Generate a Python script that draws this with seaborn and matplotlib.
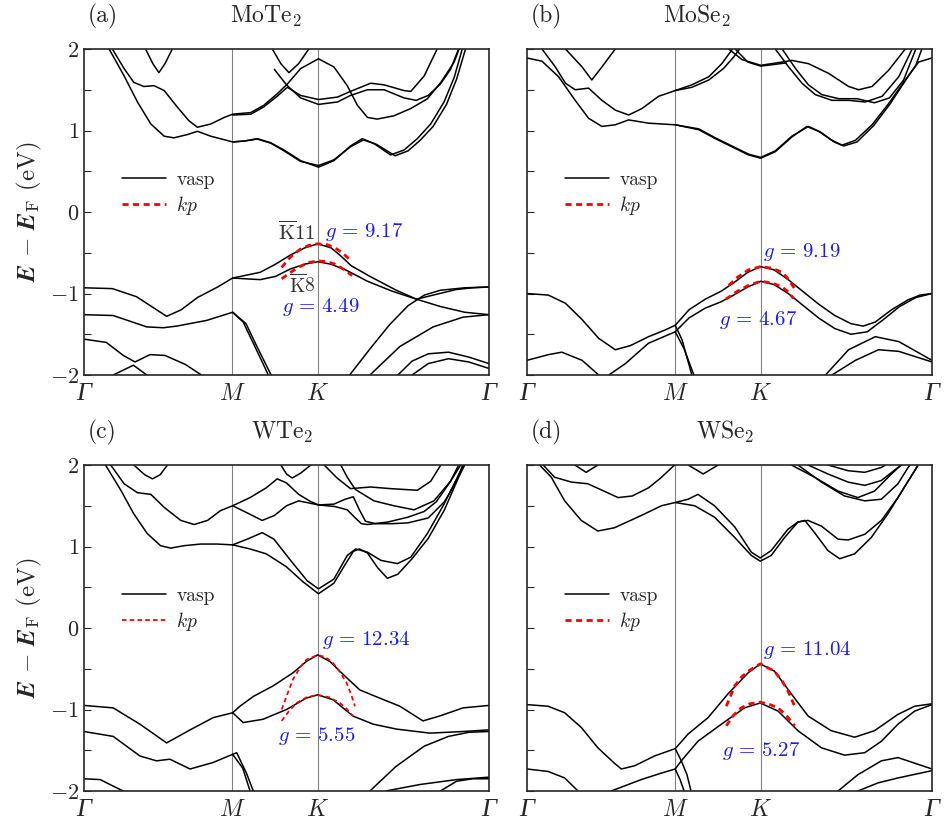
import numpy as np
import pandas as pd
import seaborn as sns
import matplotlib.pyplot as plt
from matplotlib.lines import Line2D
from matplotlib.ticker import MultipleLocator

# high symmetry points, as fraction of the Gamma-M-K-Gamma path
k_ticks = [0.0, 0.366, 0.577, 1.0]
k_labels = ['Γ', r'$M$', r'$K$', 'Γ']

# ---- (a) MoTe2 : vasp bands, list of (k, E) ----
mote2_vasp = [
    [(0.062, 2.0), (0.099, 1.67), (0.132, 1.35), (0.165, 1.08), (0.198, 0.93), (0.222, 0.91), (0.255, 0.95),
     (0.280, 0.99), (0.313, 0.93), (0.367, 0.86), (0.395, 0.87), (0.428, 0.90), (0.461, 0.85), (0.494, 0.76),
     (0.535, 0.63), (0.579, 0.55), (0.617, 0.63), (0.658, 0.81), (0.687, 0.90), (0.716, 0.84), (0.757, 0.70),
     (0.790, 0.76), (0.823, 0.90), (0.856, 1.08), (0.889, 1.35), (0.914, 1.65), (0.934, 2.0)],
    [(0.367, 0.86), (0.395, 0.87), (0.428, 0.895), (0.461, 0.845), (0.494, 0.75), (0.535, 0.62), (0.579, 0.57),
     (0.617, 0.64), (0.658, 0.80), (0.690, 0.885), (0.722, 0.83), (0.768, 0.69), (0.800, 0.75), (0.830, 0.88),
     (0.862, 1.05), (0.895, 1.32), (0.920, 1.63), (0.942, 2.0)],
    [(0.070, 2.0), (0.099, 1.76), (0.123, 1.59), (0.148, 1.54), (0.173, 1.55), (0.198, 1.49), (0.230, 1.29),
     (0.259, 1.12), (0.280, 1.04), (0.313, 1.08), (0.346, 1.16), (0.367, 1.20), (0.412, 1.22), (0.444, 1.31),
     (0.477, 1.45), (0.502, 1.57), (0.535, 1.76), (0.579, 1.88), (0.617, 1.78), (0.650, 1.55), (0.675, 1.31),
     (0.700, 1.16), (0.724, 1.14), (0.765, 1.18), (0.807, 1.27), (0.848, 1.39), (0.881, 1.59), (0.914, 1.84),
     (0.926, 2.0)],
    [(0.367, 1.19), (0.412, 1.20), (0.444, 1.29), (0.477, 1.42), (0.502, 1.53), (0.535, 1.43), (0.579, 1.38),
     (0.626, 1.41), (0.658, 1.48), (0.708, 1.58), (0.741, 1.56), (0.790, 1.49), (0.807, 1.48), (0.840, 1.67),
     (0.872, 2.0)],
    [(0.470, 1.75), (0.500, 1.56), (0.535, 1.40), (0.579, 1.32), (0.626, 1.35), (0.658, 1.43), (0.700, 1.50),
     (0.741, 1.50), (0.790, 1.40), (0.820, 1.37), (0.850, 1.43), (0.880, 1.57), (0.905, 1.75), (0.925, 2.0)],
    [(0.465, 2.0), (0.486, 1.82), (0.506, 1.71), (0.530, 1.82), (0.555, 2.0)],
    [(0.152, 2.0), (0.170, 1.82), (0.185, 1.71), (0.200, 1.82), (0.218, 2.0)],
    # valence
    [(0.0, -0.93), (0.07, -0.94), (0.13, -1.04), (0.17, -1.17), (0.204, -1.28), (0.24, -1.20), (0.28, -1.05),
     (0.33, -0.92), (0.367, -0.81), (0.435, -0.74), (0.473, -0.64), (0.509, -0.53), (0.545, -0.44),
     (0.577, -0.39), (0.61, -0.44), (0.632, -0.53), (0.66, -0.66), (0.706, -0.79), (0.771, -0.96),
     (0.821, -1.07), (0.88, -1.16), (0.94, -1.23), (1.0, -1.26)],
    [(0.367, -0.81), (0.40, -0.82), (0.435, -0.83), (0.473, -0.79), (0.509, -0.70), (0.545, -0.64),
     (0.577, -0.61), (0.61, -0.64), (0.65, -0.72), (0.70, -0.85), (0.76, -0.97), (0.821, -1.07), (0.87, -1.01),
     (0.92, -0.95), (0.96, -0.93), (1.0, -0.92)],
    [(0.656, -2.0), (0.706, -1.68), (0.755, -1.38), (0.80, -1.15), (0.84, -1.02), (0.88, -0.96), (0.94, -0.93),
     (1.0, -0.92)],
    [(0.706, -2.0), (0.780, -1.65), (0.862, -1.41), (0.936, -1.29), (1.0, -1.26)],
    [(0.0, -1.26), (0.072, -1.27), (0.155, -1.41), (0.196, -1.42), (0.229, -1.40), (0.303, -1.33),
     (0.367, -1.23), (0.393, -1.35), (0.418, -1.61), (0.442, -1.86), (0.455, -2.0)],
    [(0.367, -1.23), (0.40, -1.37), (0.425, -1.63), (0.45, -1.88), (0.462, -2.0)],
    [(0.0, -1.56), (0.055, -1.60), (0.097, -1.76), (0.126, -1.84), (0.163, -1.75), (0.20, -1.76),
     (0.25, -1.87), (0.29, -2.0)],
    [(0.072, -2.0), (0.122, -1.88), (0.155, -2.0)],
    [(0.775, -2.0), (0.81, -1.83), (0.85, -1.74), (0.90, -1.72), (0.95, -1.78), (1.0, -1.86)],
    [(0.81, -2.0), (0.85, -1.86), (0.90, -1.80), (0.95, -1.84), (1.0, -1.92)],
]
mote2_kp = [
    [(0.488, -0.68), (0.51, -0.55), (0.533, -0.46), (0.555, -0.41), (0.577, -0.39), (0.60, -0.40),
     (0.62, -0.44), (0.64, -0.51), (0.66, -0.60)],
    [(0.488, -0.82), (0.51, -0.74), (0.533, -0.67), (0.555, -0.62), (0.577, -0.60), (0.60, -0.61),
     (0.62, -0.64), (0.64, -0.70), (0.662, -0.78)],
]

# ---- (b) MoSe2 ----
mose2_vasp = [
    [(0.0, 1.89), (0.037, 1.85), (0.078, 1.66), (0.119, 1.37), (0.152, 1.15), (0.185, 1.05), (0.218, 1.07),
     (0.251, 1.13), (0.300, 1.09), (0.366, 1.07), (0.424, 1.01), (0.465, 0.90), (0.506, 0.80), (0.547, 0.70),
     (0.577, 0.66), (0.613, 0.74), (0.654, 0.92), (0.691, 1.05), (0.720, 0.99), (0.753, 0.88), (0.778, 0.82),
     (0.811, 0.88), (0.852, 1.07), (0.893, 1.33), (0.934, 1.62), (0.967, 1.84), (1.0, 1.89)],
    [(0.366, 1.07), (0.424, 1.02), (0.465, 0.91), (0.506, 0.81), (0.547, 0.71), (0.577, 0.67), (0.613, 0.75),
     (0.654, 0.93), (0.695, 1.05), (0.725, 0.98), (0.758, 0.86), (0.782, 0.81), (0.815, 0.86), (0.856, 1.06),
     (0.897, 1.33), (0.938, 1.64), (0.960, 1.80), (0.975, 2.0)],
    [(0.037, 2.0), (0.070, 1.78), (0.095, 1.58), (0.119, 1.50), (0.152, 1.52), (0.185, 1.37), (0.218, 1.25),
     (0.251, 1.19), (0.284, 1.27), (0.325, 1.42), (0.366, 1.49), (0.407, 1.56), (0.449, 1.66), (0.481, 1.82),
     (0.506, 1.99)],
    [(0.366, 1.49), (0.407, 1.53), (0.449, 1.62), (0.485, 1.76), (0.51, 1.90), (0.525, 2.0)],
    [(0.095, 2.0), (0.136, 1.78), (0.160, 1.62), (0.185, 1.78), (0.218, 2.0)],
    [(0.498, 2.0), (0.531, 1.87), (0.577, 1.80), (0.630, 1.84), (0.654, 1.86), (0.695, 1.82), (0.745, 1.70),
     (0.794, 1.54), (0.819, 1.50), (0.852, 1.54), (0.893, 1.74), (0.934, 2.0)],
    [(0.514, 2.0), (0.545, 1.84), (0.577, 1.79), (0.610, 1.81), (0.640, 1.83)],
    [(0.613, 2.0), (0.646, 1.78), (0.679, 1.58), (0.712, 1.44), (0.753, 1.37), (0.794, 1.37), (0.835, 1.35),
     (0.877, 1.42), (0.918, 1.66), (0.951, 2.0)],
    [(0.630, 2.0), (0.663, 1.76), (0.695, 1.56), (0.728, 1.44), (0.770, 1.39), (0.815, 1.39), (0.858, 1.34),
     (0.895, 1.40), (0.930, 1.62), (0.960, 2.0)],
    # valence
    [(0.0, -1.0), (0.053, -1.02), (0.095, -1.12), (0.136, -1.32), (0.177, -1.55), (0.218, -1.69),
     (0.255, -1.64), (0.30, -1.53), (0.34, -1.45), (0.366, -1.39), (0.40, -1.20), (0.44, -1.07),
     (0.48, -0.97), (0.51, -0.87), (0.545, -0.74), (0.577, -0.67), (0.61, -0.71), (0.645, -0.83),
     (0.68, -0.97), (0.72, -1.13), (0.76, -1.27), (0.80, -1.37), (0.83, -1.40), (0.86, -1.35), (0.90, -1.20),
     (0.94, -1.08), (0.97, -1.02), (1.0, -1.0)],
    [(0.202, -2.0), (0.243, -1.86), (0.300, -1.61), (0.366, -1.47), (0.40, -1.30), (0.44, -1.18),
     (0.48, -1.10), (0.51, -1.02), (0.545, -0.92), (0.577, -0.85), (0.61, -0.89), (0.645, -1.00),
     (0.68, -1.14), (0.72, -1.30), (0.76, -1.43), (0.80, -1.50), (0.84, -1.47), (0.88, -1.32), (0.92, -1.16),
     (0.96, -1.05), (1.0, -1.0)],
    [(0.0, -1.82), (0.053, -1.75), (0.086, -1.72), (0.136, -1.82), (0.177, -2.0)],
    [(0.366, -1.39), (0.383, -1.57), (0.407, -2.0)],
    [(0.366, -1.47), (0.388, -1.68), (0.412, -2.0)],
    [(0.737, -2.0), (0.794, -1.69), (0.860, -1.53), (0.918, -1.59), (1.0, -1.82)],
    [(0.753, -2.0), (0.811, -1.82), (0.868, -1.69), (0.918, -1.71), (1.0, -1.84)],
]
mose2_kp = [
    [(0.498, -0.90), (0.52, -0.80), (0.547, -0.71), (0.577, -0.67), (0.605, -0.69), (0.630, -0.74),
     (0.648, -0.84), (0.663, -0.96)],
    [(0.491, -1.07), (0.52, -0.97), (0.547, -0.90), (0.577, -0.85), (0.605, -0.87), (0.630, -0.92),
     (0.645, -0.98), (0.658, -1.06)],
]

# ---- (c) WTe2 ----
wte2_vasp = [
    [(0.053, 2.0), (0.091, 1.69), (0.123, 1.40), (0.156, 1.16), (0.189, 1.01), (0.214, 0.98), (0.247, 1.01),
     (0.288, 1.03), (0.329, 1.03), (0.367, 1.02)],
    [(0.367, 1.02), (0.403, 1.09), (0.440, 1.17), (0.469, 1.09), (0.510, 0.83), (0.551, 0.58), (0.579, 0.48),
     (0.617, 0.60), (0.650, 0.89), (0.671, 0.97), (0.700, 0.93), (0.733, 0.83), (0.774, 0.79), (0.807, 0.87),
     (0.848, 1.16), (0.889, 1.52), (0.930, 1.93), (0.938, 2.0)],
    [(0.367, 1.02), (0.41, 0.97), (0.45, 0.91), (0.50, 0.75), (0.54, 0.57), (0.579, 0.42), (0.617, 0.55),
     (0.645, 0.78), (0.665, 0.94), (0.680, 0.97), (0.70, 0.92), (0.725, 0.74), (0.749, 0.61), (0.775, 0.66),
     (0.81, 0.85), (0.85, 1.10), (0.89, 1.45), (0.925, 1.85), (0.94, 2.0)],
    [(0.066, 2.0), (0.099, 1.77), (0.132, 1.66), (0.165, 1.64), (0.198, 1.48), (0.239, 1.32), (0.272, 1.27),
     (0.305, 1.32), (0.337, 1.44), (0.367, 1.50), (0.41, 1.60), (0.45, 1.72), (0.477, 1.83), (0.50, 1.78),
     (0.53, 1.64), (0.56, 1.55), (0.579, 1.51), (0.617, 1.52), (0.645, 1.58), (0.665, 1.61), (0.680, 1.45),
     (0.695, 1.31), (0.72, 1.28), (0.76, 1.28), (0.80, 1.29), (0.85, 1.35), (0.89, 1.55), (0.92, 1.80),
     (0.935, 2.0)],
    [(0.367, 1.50), (0.40, 1.42), (0.44, 1.32), (0.47, 1.38), (0.50, 1.50), (0.53, 1.56), (0.579, 1.51),
     (0.62, 1.49), (0.65, 1.45), (0.67, 1.35), (0.685, 1.28), (0.70, 1.27), (0.75, 1.30), (0.80, 1.36),
     (0.84, 1.43), (0.87, 1.55), (0.905, 1.80), (0.925, 2.0)],
    [(0.123, 2.0), (0.150, 1.88), (0.169, 1.83), (0.188, 1.88), (0.206, 2.0)],
    [(0.486, 2.0), (0.500, 1.89), (0.514, 1.84), (0.535, 1.90), (0.560, 2.0)],
    [(0.593, 2.0), (0.625, 1.84), (0.658, 1.71), (0.708, 1.73), (0.757, 1.71), (0.823, 1.69), (0.856, 1.80),
     (0.881, 2.0)],
    [(0.634, 2.0), (0.650, 1.85), (0.670, 1.70), (0.716, 1.56), (0.765, 1.50), (0.815, 1.45), (0.864, 1.56),
     (0.905, 1.80), (0.93, 2.0)],
    # valence
    [(0.0, -0.95), (0.072, -0.98), (0.138, -1.18), (0.204, -1.41), (0.262, -1.25), (0.319, -1.10),
     (0.367, -1.04), (0.385, -0.96), (0.418, -0.84), (0.467, -0.71), (0.516, -0.55), (0.549, -0.41),
     (0.577, -0.33), (0.607, -0.41), (0.640, -0.57), (0.681, -0.76), (0.730, -0.86), (0.780, -0.96),
     (0.837, -1.14), (0.878, -1.08), (0.936, -0.98), (1.0, -0.95)],
    [(0.367, -1.04), (0.393, -1.16), (0.442, -1.12), (0.500, -1.00), (0.549, -0.86), (0.577, -0.82),
     (0.615, -0.88), (0.664, -1.08), (0.714, -1.18), (0.771, -1.24), (0.854, -1.29), (0.936, -1.27),
     (1.0, -1.25)],
    [(0.0, -1.27), (0.072, -1.33), (0.138, -1.57), (0.179, -1.63), (0.212, -1.61), (0.262, -1.73),
     (0.319, -1.65), (0.367, -1.55), (0.377, -1.53), (0.401, -1.78), (0.418, -2.0)],
    [(0.367, -1.55), (0.392, -1.72), (0.41, -2.0)],
    [(0.0, -1.85), (0.04, -1.86), (0.072, -1.94), (0.097, -2.0)],
    [(0.706, -2.0), (0.77, -1.70), (0.84, -1.45), (0.90, -1.33), (0.95, -1.28), (1.0, -1.27)],
    [(0.745, -2.0), (0.83, -1.92), (0.92, -1.86), (1.0, -1.83)],
    [(0.88, -2.0), (0.92, -1.88), (0.96, -1.85), (1.0, -1.85)],
]
wte2_kp = [
    [(0.488, -1.0), (0.500, -0.84), (0.516, -0.63), (0.533, -0.49), (0.549, -0.39), (0.577, -0.33),
     (0.597, -0.36), (0.615, -0.43), (0.632, -0.54), (0.648, -0.67), (0.660, -0.82), (0.669, -0.96)],
    [(0.488, -1.14), (0.506, -1.02), (0.525, -0.92), (0.550, -0.85), (0.577, -0.82), (0.605, -0.85),
     (0.632, -0.92), (0.650, -1.00), (0.664, -1.08)],
]

# ---- (d) WSe2 ----
wse2_vasp = [
    [(0.031, 2.0), (0.060, 1.85), (0.093, 1.56), (0.134, 1.32), (0.175, 1.19), (0.216, 1.23), (0.282, 1.38),
     (0.332, 1.50), (0.366, 1.54), (0.414, 1.50), (0.463, 1.36), (0.513, 1.11), (0.554, 0.89), (0.576, 0.82),
     (0.603, 0.89), (0.636, 1.11), (0.669, 1.30), (0.686, 1.32), (0.710, 1.17), (0.743, 0.95), (0.772, 0.85),
     (0.809, 0.91), (0.850, 1.11), (0.891, 1.40), (0.932, 1.73), (0.965, 1.99)],
    [(0.366, 1.54), (0.398, 1.58), (0.422, 1.64), (0.463, 1.50), (0.513, 1.24), (0.554, 0.93), (0.576, 0.86),
     (0.603, 0.95), (0.644, 1.21), (0.669, 1.30), (0.694, 1.32), (0.727, 1.25), (0.768, 1.09), (0.793, 1.08),
     (0.834, 1.15), (0.875, 1.32), (0.916, 1.60), (0.957, 1.93), (0.965, 2.0)],
    [(0.040, 2.0), (0.068, 1.85), (0.11, 1.79), (0.15, 1.77), (0.19, 1.68), (0.225, 1.60), (0.26, 1.62),
     (0.30, 1.72), (0.33, 1.84), (0.36, 1.98), (0.365, 2.0)],
    [(0.118, 2.0), (0.146, 1.91), (0.175, 2.0)],
    [(0.398, 2.0), (0.435, 1.89), (0.472, 2.0)],
    [(0.653, 2.0), (0.710, 1.85), (0.768, 1.68), (0.817, 1.60), (0.858, 1.68), (0.900, 1.89), (0.924, 2.0)],
    [(0.694, 2.0), (0.743, 1.89), (0.793, 1.79), (0.834, 1.75), (0.875, 1.81), (0.916, 1.97), (0.925, 2.0)],
    [(0.743, 2.0), (0.793, 1.93), (0.834, 1.91), (0.875, 1.97), (0.885, 2.0)],
    [(0.669, 2.0), (0.727, 1.79), (0.784, 1.62), (0.834, 1.56), (0.875, 1.58), (0.916, 1.77), (0.941, 1.97),
     (0.946, 2.0)],
    # valence
    [(0.0, -0.94), (0.052, -0.96), (0.093, -1.04), (0.134, -1.22), (0.175, -1.47), (0.216, -1.66),
     (0.233, -1.73), (0.266, -1.69), (0.315, -1.57), (0.366, -1.48), (0.398, -1.30), (0.447, -1.10),
     (0.496, -0.81), (0.546, -0.55), (0.576, -0.44), (0.611, -0.53), (0.653, -0.81), (0.694, -1.08),
     (0.751, -1.26), (0.809, -1.34), (0.858, -1.26), (0.916, -1.06), (0.957, -0.96), (1.0, -0.93)],
    [(0.208, -2.0), (0.282, -1.86), (0.332, -1.78), (0.366, -1.73), (0.381, -1.63), (0.422, -1.39),
     (0.480, -1.18), (0.537, -0.98), (0.576, -0.92), (0.620, -1.02), (0.669, -1.26), (0.727, -1.47),
     (0.784, -1.56), (0.834, -1.53), (0.875, -1.39), (0.916, -1.18), (0.957, -1.02), (1.0, -0.94)],
    [(0.0, -1.73), (0.052, -1.76), (0.093, -1.84), (0.126, -2.0)],
    [(0.366, -1.48), (0.381, -1.63), (0.395, -1.80), (0.405, -2.0)],
    [(0.366, -1.73), (0.378, -1.86), (0.388, -2.0)],
    [(0.768, -2.0), (0.817, -1.80), (0.875, -1.63), (0.916, -1.59), (1.0, -1.73)],
    [(0.817, -2.0), (0.867, -1.90), (0.916, -1.84), (1.0, -1.75)],
]
wse2_kp = [
    [(0.492, -0.96), (0.513, -0.71), (0.530, -0.60), (0.546, -0.53), (0.576, -0.44), (0.611, -0.53),
     (0.630, -0.65), (0.644, -0.77), (0.661, -0.96)],
    [(0.492, -1.20), (0.510, -1.07), (0.529, -0.98), (0.550, -0.93), (0.576, -0.91), (0.600, -0.94),
     (0.620, -0.98), (0.640, -1.07), (0.661, -1.20)],
]

titles = [r'$\mathrm{MoTe_2}$', r'$\mathrm{MoSe_2}$', r'$\mathrm{WTe_2}$', r'$\mathrm{WSe_2}$']
title_x = [0.45, 0.42, 0.49, 0.49]
tags = ['(a)', '(b)', '(c)', '(d)']
g_labels = [[(0.595, -0.25, r'$g\,=\,9.17$'), (0.490, -1.17, r'$g\,=\,4.49$')],
            [(0.583, -0.49, r'$g\,=\,9.19$'), (0.474, -1.33, r'$g\,=\,4.67$')],
            [(0.588, -0.15, r'$g\,=\,12.34$'), (0.478, -1.32, r'$g\,=\,5.55$')],
            [(0.583, -0.27, r'$g\,=\,11.04$'), (0.481, -1.51, r'$g\,=\,5.27$')]]


def to_frame(bands):
    rows = []
    for i, b in enumerate(bands):
        for k, e in b:
            rows.append((i, k, e))
    return pd.DataFrame(rows, columns=['band', 'k', 'E'])


def draw_panel(ax, vasp, kp, idx, kp_style):
    for xk in k_ticks[1:3]:
        ax.axvline(xk, color='grey', lw=0.8, zorder=0)
    sns.lineplot(data=to_frame(vasp), x='k', y='E', units='band', estimator=None, sort=False,
                 color='black', lw=1.1, ax=ax)
    sns.lineplot(data=to_frame(kp), x='k', y='E', units='band', estimator=None, sort=False,
                 color='red', lw=kp_style[0], dashes=False, ax=ax)
    for line in ax.lines[-len(kp):]:
        line.set_dashes(kp_style[1])
    ax.set_xlim(0, 1)
    ax.set_ylim(-2, 2)
    ax.set_xticks(k_ticks)
    ax.set_xticklabels(k_labels)
    ax.tick_params(axis='x', length=0, pad=6, labelsize=17)
    # italic Gamma, close to the TeX look
    for lbl, s in zip(ax.get_xticklabels(), k_labels):
        if s == 'Γ':
            lbl.set_fontfamily('Liberation Serif')
            lbl.set_fontstyle('italic')
            lbl.set_fontsize(19)
    ax.yaxis.set_major_locator(MultipleLocator(1))
    ax.yaxis.set_minor_locator(MultipleLocator(0.5))
    ax.tick_params(axis='y', which='both', direction='in', left=True, right=False, length=5, width=0.8,
                   labelsize=16)
    ax.set_xlabel('')
    ax.set_ylabel('')
    for s in ax.spines.values():
        s.set_linewidth(1.2)
    ax.text(title_x[idx], 1.06, titles[idx], transform=ax.transAxes, ha='center', va='bottom', fontsize=17)
    ax.text(0.01, 1.06, tags[idx], transform=ax.transAxes, ha='left', va='bottom', fontsize=17)
    for x, y, s in g_labels[idx]:
        ax.text(x, y, s, color='#1a1aff', fontsize=15, ha='left', va='center')
    handles = [Line2D([], [], color='black', lw=1.1),
               Line2D([], [], color='red', lw=kp_style[0], dashes=kp_style[1])]
    ax.legend(handles, ['vasp', r'$kp$'], loc='upper left', bbox_to_anchor=(0.05, 0.68), frameon=False,
              fontsize=14, handlelength=2.3, labelspacing=0.25, handletextpad=0.5)


sns.set_theme(style='ticks')
plt.rcParams['font.family'] = ['cmr10', 'DejaVu Serif']
plt.rcParams['mathtext.fontset'] = 'cm'
plt.rcParams['axes.formatter.use_mathtext'] = True
plt.rcParams['axes.unicode_minus'] = True

fig = plt.figure(figsize=(9.45, 8.31), dpi=100)
W, H = 945, 831
boxes = [(84, 49), (527, 49), (84, 465), (527, 465)]
axes = [fig.add_axes([x / W, 1 - (y + 326) / H, 405 / W, 326 / H]) for x, y in boxes]

thick = (2.0, (2.2, 1.6))
thin = (1.3, (2.5, 1.8))
draw_panel(axes[0], mote2_vasp, mote2_kp, 0, thick)
draw_panel(axes[1], mose2_vasp, mose2_kp, 1, thick)
draw_panel(axes[2], wte2_vasp, wte2_kp, 2, thin)
draw_panel(axes[3], wse2_vasp, wse2_kp, 3, thick)

axes[0].text(0.572, -0.25, r'$\overline{\mathrm{K}}11$', color='#333333', fontsize=15, ha='right', va='center')
axes[0].text(0.506, -0.89, r'$\overline{\mathrm{K}}8$', color='#333333', fontsize=14, ha='left', va='center')

for ax in (axes[1], axes[3]):
    ax.set_yticklabels([])
for ax in (axes[0], axes[2]):
    ax.set_ylabel(r'$\mathbfit{E}\,-\,\mathbfit{E}_{\mathrm{F}}$ (eV)', fontsize=18, labelpad=4)

fig.savefig('out.png', dpi=100)
